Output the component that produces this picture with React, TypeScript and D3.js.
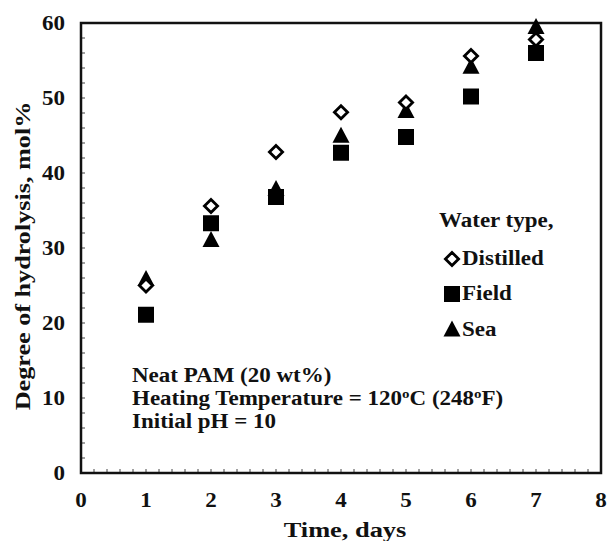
import React from "react";
import * as d3 from "d3";

const days = [1, 2, 3, 4, 5, 6, 7];
const distilled = [25.0, 35.6, 42.8, 48.1, 49.4, 55.6, 57.8];
const field = [21.1, 33.3, 36.8, 42.7, 44.8, 50.2, 56.0];
const sea = [25.8, 31.0, 37.8, 44.9, 48.2, 54.1, 59.4];
const xTicks = [0, 1, 2, 3, 4, 5, 6, 7, 8];
const yTicks = [0, 10, 20, 30, 40, 50, 60];
const legendLabels = ["Distilled", "Field", "Sea"];

const W = 608, H = 541;
const m = { left: 81, right: 601, top: 23, bottom: 473 };
const FONT = "'Liberation Serif', 'Times New Roman', serif";
const SX = 1.15;

function T({ x, y, size, anchor = "start", sx = SX, children }: any) {
  return (
    <g transform={`translate(${x},${y}) scale(${sx},1)`}>
      <text x={0} y={0} fontSize={size} textAnchor={anchor} fill="#111">{children}</text>
    </g>
  );
}

export default function App() {
  const x = d3.scaleLinear().domain([0, 8]).range([m.left, m.right]);
  const y = d3.scaleLinear().domain([0, 60]).range([m.bottom, m.top]);
  const diamond = (cx: number, cy: number) => {
    const r = 6.6;
    return `M${cx},${cy - r}L${cx + r},${cy}L${cx},${cy + r}L${cx - r},${cy}Z`;
  };
  const square = (cx: number, cy: number) => {
    const s = 8;
    return `M${cx - s},${cy - s}h${2 * s}v${2 * s}h${-2 * s}Z`;
  };
  const tri = (cx: number, cy: number) => {
    const w = 8.5, h = 16;
    return `M${cx},${cy - h * 0.6}L${cx + w},${cy + h * 0.4}L${cx - w},${cy + h * 0.4}Z`;
  };
  const xMinor = d3.range(0, 8.001, 0.2);
  const yMinor = d3.range(0, 60.001, 2);
  const legendY = [259, 294, 330];
  return (
    <svg width={W} height={H} style={{ position: "absolute", left: 0, top: 0, background: "#fff" }} fontFamily={FONT} fontWeight="bold">
      {xMinor.map((v, i) => (
        <line key={"xm" + i} x1={x(v)} x2={x(v)} y1={m.bottom} y2={m.bottom - 4} stroke="#444" strokeWidth={1} />
      ))}
      {yMinor.map((v, i) => (
        <line key={"ym" + i} x1={m.left} x2={m.left + 4} y1={y(v)} y2={y(v)} stroke="#444" strokeWidth={1} />
      ))}
      <rect x={m.left} y={m.top} width={m.right - m.left} height={m.bottom - m.top} fill="none" stroke="#111" strokeWidth={2.5} />
      {xTicks.map((v) => (
        <T key={"xt" + v} x={x(v)} y={507} size={20} anchor="middle">{v}</T>
      ))}
      {yTicks.map((v) => (
        <T key={"yt" + v} x={65} y={y(v) + 7} size={20} anchor="end">{v}</T>
      ))}
      <T x={(m.left + m.right) / 2 + 4} y={537} size={22} anchor="middle" sx={1.2}>Time, days</T>
      <g transform={`translate(30,${256}) rotate(-90)`}>
        <T x={0} y={0} size={22} anchor="middle" sx={1.19}>Degree of hydrolysis, mol%</T>
      </g>
      {days.map((d, i) => (
        <path key={"f" + i} d={square(x(d), y(field[i]))} fill="#000" />
      ))}
      {days.map((d, i) => (
        <path key={"s" + i} d={tri(x(d), y(sea[i]))} fill="#000" />
      ))}
      {days.map((d, i) => (
        <path key={"d" + i} d={diamond(x(d), y(distilled[i]))} fill="#fff" stroke="#000" strokeWidth={2.8} />
      ))}
      <T x={439} y={227} size={20}>Water type,</T>
      <path d={diamond(452, legendY[0])} fill="#fff" stroke="#000" strokeWidth={2.8} />
      <path d={square(452, legendY[1])} fill="#000" />
      <path d={tri(452, legendY[2])} fill="#000" />
      {legendLabels.map((l, i) => (
        <T key={l} x={462} y={legendY[i] + 6} size={20}>{l}</T>
      ))}
      <T x={132} y={382} size={20}>Neat PAM (20 wt%)</T>
      <T x={132} y={405} size={20}>
        Heating Temperature = 120<tspan fontSize={13} dy={-7}>o</tspan><tspan dy={7}>C (248</tspan><tspan fontSize={13} dy={-7}>o</tspan><tspan dy={7}>F)</tspan>
      </T>
      <T x={132} y={428} size={20}>Initial pH = 10</T>
    </svg>
  );
}
